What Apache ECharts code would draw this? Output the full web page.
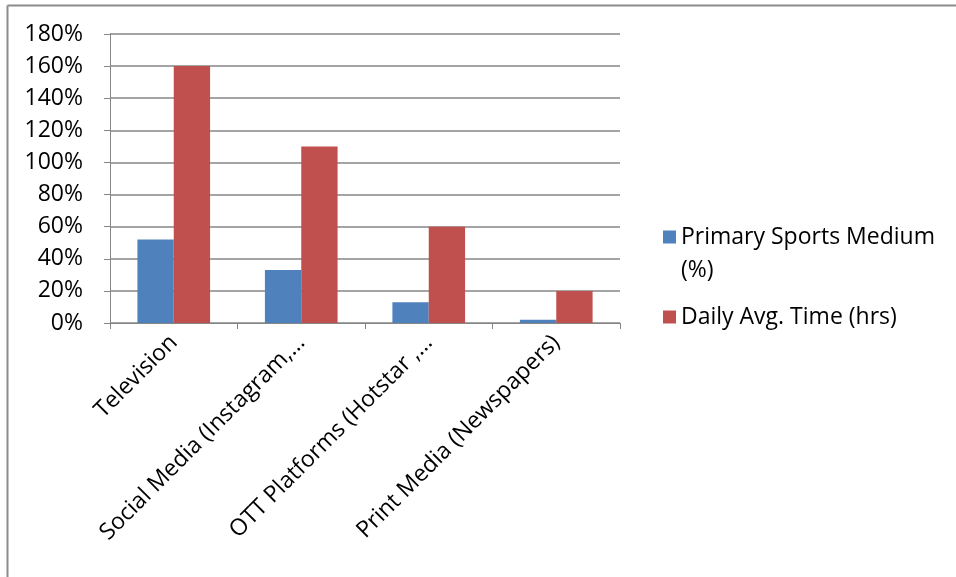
<!DOCTYPE html>
<html>
<head>
<meta charset="utf-8">
<script src="https://cdn.jsdelivr.net/npm/echarts@6/dist/echarts.min.js"></script>
<style>
  html, body { margin: 0; padding: 0; background: #fff; }
  #chart { width: 956px; height: 577px; }
</style>
</head>
<body>
<div id="chart"></div>
<script>
const categories = ['Television', 'Social Media (Instagram,…', 'OTT Platforms (Hotstar ,…', 'Print Media (Newspapers)']
const primaryMedium = [52, 33, 13, 2]
const dailyTime = [160, 110, 60, 20]
const seriesNames = ['Primary Sports Medium\n(%)', 'Daily Avg. Time (hrs)']
const yTicks = { min: 0, max: 180, interval: 20 }

const font = '"Open Sans", Lato, sans-serif'
const gridColor = '#868686'
const legendText = { fontFamily: font, fontSize: 23, color: '#000', lineHeight: 33 }

const chart = echarts.init(document.getElementById('chart'))

const option = {
  animation: false,
  graphic: [
    { type: 'line', shape: { x1: 7.5, y1: 5.5, x2: 956, y2: 5.5 }, style: { stroke: '#8c8c8c', lineWidth: 2 } },
    { type: 'line', shape: { x1: 7.5, y1: 5.5, x2: 7.5, y2: 577 }, style: { stroke: '#8c8c8c', lineWidth: 2 } }
  ],
  grid: { left: 110, right: 336, top: 34, bottom: 254 },
  legend: [
    {
      left: 663,
      top: 187.5,
      padding: 0,
      itemWidth: 13,
      itemHeight: 13,
      icon: 'rect',
      data: [seriesNames[0]],
      // blank first line so the icon sits beside the first text line
      formatter: name => ' \n' + name,
      textStyle: legendText
    },
    {
      left: 663,
      top: 300.5,
      padding: 0,
      itemWidth: 13,
      itemHeight: 13,
      icon: 'rect',
      data: [seriesNames[1]],
      textStyle: legendText
    }
  ],
  xAxis: {
    type: 'category',
    data: categories,
    axisLine: { lineStyle: { color: gridColor } },
    axisTick: { show: true, length: 6, lineStyle: { color: gridColor } },
    axisLabel: {
      rotate: 45,
      interval: 0,
      margin: 16,
      fontFamily: font,
      fontSize: 23,
      color: '#000'
    }
  },
  yAxis: {
    type: 'value',
    min: yTicks.min,
    max: yTicks.max,
    interval: yTicks.interval,
    axisLine: { show: true, lineStyle: { color: gridColor } },
    axisTick: { show: true, length: 6, lineStyle: { color: gridColor } },
    splitLine: { lineStyle: { color: gridColor, width: 1.5 } },
    axisLabel: {
      formatter: '{value}%',
      margin: 27,
      fontFamily: font,
      fontSize: 23,
      color: '#000'
    }
  },
  series: [
    {
      name: seriesNames[0],
      type: 'bar',
      data: primaryMedium,
      barGap: '0%',
      barCategoryGap: '43%',
      itemStyle: { color: '#4f81bd' }
    },
    {
      name: seriesNames[1],
      type: 'bar',
      data: dailyTime,
      itemStyle: { color: '#c0504d' }
    }
  ]
}

chart.setOption(option)
</script>
</body>
</html>
